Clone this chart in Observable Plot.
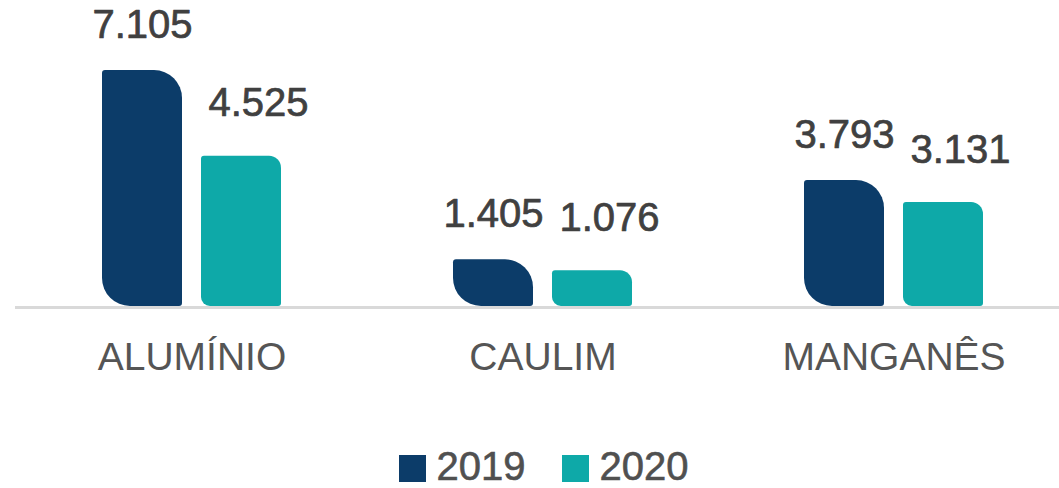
<!DOCTYPE html>
<html>
<head>
<meta charset="utf-8">
<script src="https://cdn.jsdelivr.net/npm/d3@7"></script>
<script src="https://cdn.jsdelivr.net/npm/@observablehq/plot@0.6"></script>
<style>
  html, body { margin: 0; padding: 0; background: #fff; }
  body { width: 1059px; height: 488px; overflow: hidden; font-family: "Liberation Sans", Arial, sans-serif; }
  #legend { display: flex; justify-content: center; align-items: flex-end; height: 58px; margin-left: 28px; box-sizing: border-box; padding-bottom: 4px; }
  .item { display: flex; align-items: flex-end; margin: 0 18px; }
  .sw { width: 27px; height: 27px; margin-right: 11px; margin-bottom: 2px; }
  .lab { font-size: 40px; line-height: 36px; color: #505050; -webkit-text-stroke: 0.6px #505050; }
</style>
</head>
<body>
<div id="chart"></div>
<div id="legend"></div>
<script>
const categories = ["ALUMÍNIO", "CAULIM", "MANGANÊS"];
const years = ["2019", "2020"];
const values2019 = [7105, 1405, 3793];
const values2020 = [4525, 1076, 3131];
const colors = ["#0c3c69", "#0ea9a8"];

const data = categories.flatMap((c, i) => [
  {cat: c, year: "2019", value: values2019[i]},
  {cat: c, year: "2020", value: values2020[i]}
]);
const fmt = d3.formatLocale({decimal: ",", thousands: ".", grouping: [3], currency: ["", ""]}).format(",d");
const d19 = data.filter(d => d.year === "2019");
const d20 = data.filter(d => d.year === "2020");

const chart = Plot.plot({
  width: 1059,
  height: 430,
  marginLeft: 0,
  marginRight: 0,
  marginTop: 70,
  marginBottom: 124,
  style: {fontFamily: "Liberation Sans, Arial, sans-serif", background: "transparent", overflow: "visible"},
  fx: {domain: categories, range: [0, 1085], paddingInner: 0, paddingOuter: 0.0427, label: null},
  x: {domain: years, paddingInner: 0.19, paddingOuter: 0.8525, axis: null},
  y: {domain: [0, 7105], axis: null},
  marks: [
    Plot.barY(d19, {fx: "cat", x: "year", y: "value", fill: colors[0],
      rx1y1: 3, rx2y1: 28, rx2y2: 3, rx1y2: 28}),
    Plot.barY(d20, {fx: "cat", x: "year", y: "value", fill: colors[1],
      rx1y1: 3, rx2y1: 12, rx2y2: 3, rx1y2: 9}),
    Plot.frame({anchor: "bottom", stroke: "#d9d9d9", strokeWidth: 3, dy: 1, facet: "super"}),
    Plot.text(d19, {fx: "cat", x: "year", y: "value", text: d => fmt(d.value),
      lineAnchor: "bottom", dx: 0, dy: -33, fontSize: 40, fill: "#404040", stroke: "#404040", strokeWidth: 0.7}),
    Plot.text(d20, {fx: "cat", x: "year", y: "value", text: d => fmt(d.value),
      lineAnchor: "bottom", dx: 17, dy: -40, fontSize: 40, fill: "#404040", stroke: "#404040", strokeWidth: 0.7}),
    Plot.axisFx({anchor: "bottom", tickSize: 0, tickPadding: 36, fontSize: 39, fill: "#555555", stroke: "#555555", strokeWidth: 0.5, label: null})
  ]
});
document.getElementById("chart").appendChild(chart);

const legend = document.getElementById("legend");
years.forEach((y, i) => {
  const item = document.createElement("div");
  item.className = "item";
  const sw = document.createElement("div");
  sw.className = "sw";
  sw.style.background = colors[i];
  const lab = document.createElement("div");
  lab.className = "lab";
  lab.textContent = y;
  item.appendChild(sw);
  item.appendChild(lab);
  legend.appendChild(item);
});
</script>
</body>
</html>
